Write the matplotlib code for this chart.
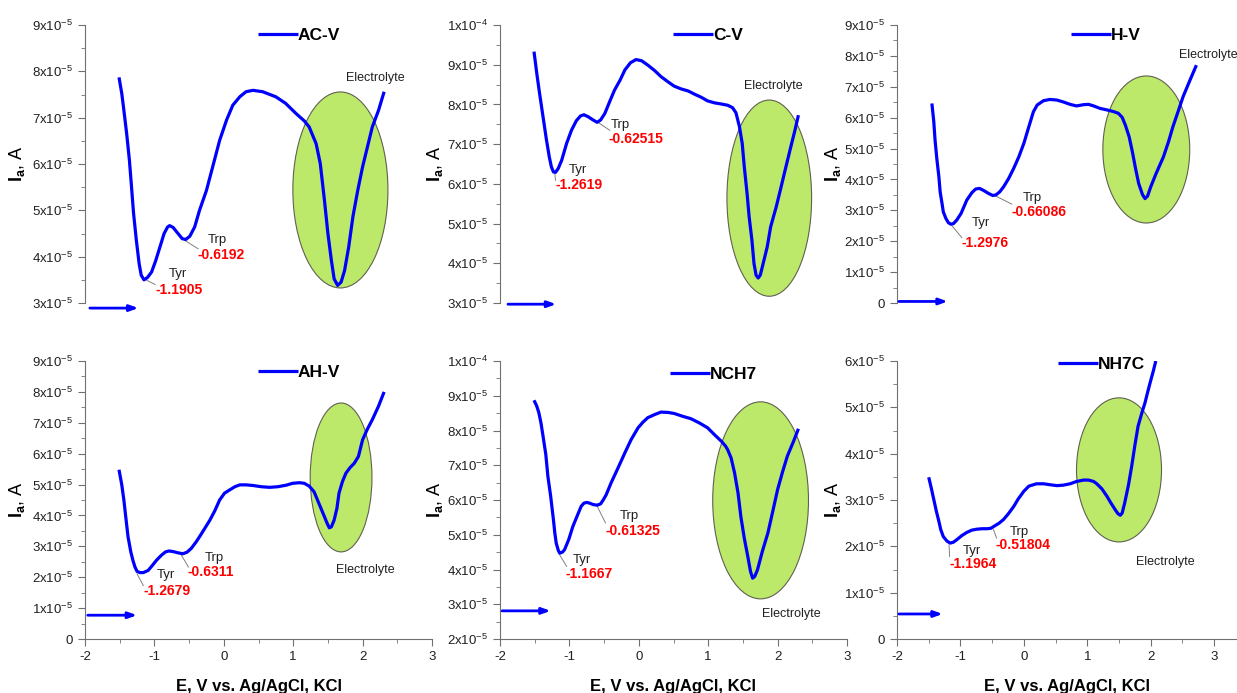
import numpy as np
import matplotlib.pyplot as plt
from matplotlib.patches import Ellipse
from matplotlib.ticker import FixedLocator, MultipleLocator

plt.rcParams['font.family'] = ['Liberation Sans', 'DejaVu Sans']
plt.rcParams['mathtext.fontset'] = 'custom'
plt.rcParams['mathtext.rm'] = 'Liberation Sans'
plt.rcParams['mathtext.it'] = 'Liberation Sans:italic'
plt.rcParams['mathtext.bf'] = 'Liberation Sans:bold'
plt.rcParams['axes.unicode_minus'] = False

#%% data: (E in V, I in 1e-5 A)
names = ['AC-V', 'C-V', 'H-V', 'AH-V', 'NCH7', 'NH7C']

acv = [(-1.51, 7.87), (-1.47, 7.52), (-1.44, 7.16), (-1.40, 6.66), (-1.36, 6.08), (-1.33, 5.51),
       (-1.30, 4.93), (-1.26, 4.35), (-1.22, 3.85), (-1.19, 3.60), (-1.15, 3.50), (-1.10, 3.55),
       (-1.04, 3.67), (-0.98, 3.92), (-0.92, 4.21), (-0.86, 4.50), (-0.81, 4.64), (-0.78, 4.67),
       (-0.73, 4.63), (-0.66, 4.50), (-0.60, 4.39), (-0.55, 4.37), (-0.49, 4.44), (-0.42, 4.64),
       (-0.35, 5.00), (-0.25, 5.43), (-0.16, 5.94), (-0.06, 6.51), (0.04, 6.95), (0.13, 7.27),
       (0.23, 7.45), (0.32, 7.56), (0.42, 7.59), (0.56, 7.56), (0.75, 7.45), (0.89, 7.31),
       (1.04, 7.09), (1.16, 6.93), (1.23, 6.80), (1.28, 6.62), (1.33, 6.44), (1.39, 6.01),
       (1.45, 5.22), (1.50, 4.50), (1.55, 3.92), (1.59, 3.52), (1.64, 3.38), (1.69, 3.45),
       (1.74, 3.70), (1.80, 4.21), (1.86, 4.86), (1.93, 5.43), (2.00, 5.94), (2.07, 6.37),
       (2.14, 6.80), (2.23, 7.16), (2.31, 7.56)]

cv = [(-1.51, 9.33), (-1.47, 8.78), (-1.43, 8.28), (-1.38, 7.69), (-1.33, 7.10), (-1.29, 6.68),
      (-1.26, 6.43), (-1.23, 6.30), (-1.20, 6.29), (-1.16, 6.39), (-1.11, 6.60), (-1.04, 7.02),
      (-0.97, 7.35), (-0.90, 7.59), (-0.84, 7.71), (-0.79, 7.74), (-0.73, 7.69), (-0.66, 7.61),
      (-0.60, 7.55), (-0.55, 7.61), (-0.49, 7.77), (-0.42, 8.07), (-0.35, 8.36), (-0.27, 8.61),
      (-0.20, 8.87), (-0.12, 9.05), (-0.04, 9.13), (0.04, 9.10), (0.13, 8.99), (0.23, 8.85),
      (0.32, 8.70), (0.42, 8.57), (0.51, 8.46), (0.61, 8.39), (0.71, 8.34), (0.80, 8.26),
      (0.90, 8.18), (0.99, 8.09), (1.09, 8.04), (1.19, 8.01), (1.28, 7.98), (1.35, 7.92),
      (1.40, 7.79), (1.45, 7.44), (1.49, 7.02), (1.52, 6.43), (1.56, 5.76), (1.59, 5.17),
      (1.63, 4.58), (1.66, 3.99), (1.69, 3.70), (1.72, 3.63), (1.75, 3.70), (1.78, 3.91),
      (1.85, 4.41), (1.90, 4.92), (1.98, 5.42), (2.05, 5.92), (2.12, 6.43), (2.19, 6.93),
      (2.25, 7.35), (2.30, 7.73)]

hv = [(-1.45, 6.46), (-1.42, 5.87), (-1.40, 5.27), (-1.37, 4.63), (-1.34, 4.09), (-1.32, 3.60),
      (-1.29, 3.22), (-1.27, 2.95), (-1.23, 2.74), (-1.19, 2.60), (-1.15, 2.55), (-1.11, 2.57),
      (-1.06, 2.68), (-0.99, 2.90), (-0.90, 3.33), (-0.82, 3.57), (-0.76, 3.69), (-0.70, 3.71),
      (-0.64, 3.65), (-0.56, 3.55), (-0.49, 3.48), (-0.44, 3.50), (-0.38, 3.60), (-0.32, 3.76),
      (-0.24, 4.03), (-0.16, 4.36), (-0.08, 4.73), (0.00, 5.17), (0.07, 5.65), (0.15, 6.19),
      (0.21, 6.41), (0.31, 6.55), (0.41, 6.59), (0.52, 6.57), (0.62, 6.51), (0.73, 6.43),
      (0.83, 6.38), (0.94, 6.42), (1.02, 6.43), (1.10, 6.38), (1.20, 6.30), (1.31, 6.25),
      (1.41, 6.20), (1.49, 6.14), (1.55, 6.01), (1.60, 5.76), (1.66, 5.38), (1.71, 4.90),
      (1.76, 4.36), (1.81, 3.87), (1.87, 3.51), (1.91, 3.38), (1.95, 3.46), (2.00, 3.76),
      (2.08, 4.17), (2.20, 4.73), (2.28, 5.22), (2.35, 5.71), (2.43, 6.19), (2.51, 6.68),
      (2.62, 7.22), (2.72, 7.70)]

ahv = [(-1.51, 5.48), (-1.47, 4.99), (-1.44, 4.50), (-1.41, 3.90), (-1.38, 3.31), (-1.34, 2.82),
       (-1.31, 2.55), (-1.28, 2.33), (-1.25, 2.19), (-1.21, 2.15), (-1.16, 2.15), (-1.09, 2.22),
       (-1.03, 2.38), (-0.97, 2.55), (-0.90, 2.71), (-0.84, 2.82), (-0.79, 2.85), (-0.73, 2.83),
       (-0.66, 2.79), (-0.59, 2.76), (-0.53, 2.81), (-0.47, 2.93), (-0.40, 3.14), (-0.35, 3.31),
       (-0.28, 3.56), (-0.20, 3.85), (-0.13, 4.15), (-0.06, 4.50), (0.01, 4.72), (0.08, 4.82),
       (0.16, 4.93), (0.23, 4.99), (0.32, 4.99), (0.42, 4.97), (0.54, 4.93), (0.66, 4.91),
       (0.78, 4.93), (0.90, 4.98), (0.99, 5.04), (1.09, 5.06), (1.16, 5.04), (1.23, 4.95),
       (1.30, 4.77), (1.35, 4.50), (1.40, 4.23), (1.45, 3.96), (1.49, 3.74), (1.52, 3.60),
       (1.55, 3.63), (1.59, 3.85), (1.63, 4.23), (1.66, 4.72), (1.71, 5.10), (1.76, 5.37),
       (1.82, 5.55), (1.88, 5.69), (1.94, 5.91), (2.00, 6.45), (2.07, 6.80), (2.14, 7.10),
       (2.23, 7.54), (2.31, 8.00)]

nch7 = [(-1.51, 8.87), (-1.47, 8.70), (-1.44, 8.51), (-1.41, 8.22), (-1.38, 7.84), (-1.34, 7.31),
        (-1.31, 6.68), (-1.27, 6.11), (-1.23, 5.43), (-1.21, 5.05), (-1.19, 4.76), (-1.16, 4.55),
        (-1.14, 4.47), (-1.10, 4.50), (-1.07, 4.57), (-1.01, 4.86), (-0.95, 5.24), (-0.88, 5.58),
        (-0.83, 5.82), (-0.79, 5.91), (-0.75, 5.93), (-0.71, 5.91), (-0.66, 5.87), (-0.60, 5.85),
        (-0.55, 5.89), (-0.51, 6.01), (-0.47, 6.15), (-0.40, 6.49), (-0.30, 6.92), (-0.20, 7.36),
        (-0.11, 7.74), (-0.01, 8.08), (0.06, 8.24), (0.13, 8.37), (0.23, 8.46), (0.32, 8.53),
        (0.42, 8.52), (0.51, 8.49), (0.63, 8.41), (0.75, 8.34), (0.87, 8.22), (0.99, 8.08),
        (1.09, 7.88), (1.19, 7.69), (1.25, 7.55), (1.28, 7.45), (1.33, 7.21), (1.38, 6.78),
        (1.43, 6.20), (1.47, 5.53), (1.52, 4.90), (1.57, 4.38), (1.61, 3.94), (1.64, 3.75),
        (1.67, 3.80), (1.71, 3.99), (1.78, 4.52), (1.86, 5.05), (1.93, 5.67), (2.00, 6.30),
        (2.07, 6.80), (2.14, 7.26), (2.23, 7.69), (2.30, 8.05)]

nh7c = [(-1.50, 3.49), (-1.46, 3.26), (-1.42, 3.01), (-1.38, 2.76), (-1.34, 2.54), (-1.31, 2.36),
        (-1.27, 2.21), (-1.21, 2.11), (-1.16, 2.07), (-1.11, 2.09), (-1.06, 2.14), (-0.98, 2.23),
        (-0.90, 2.30), (-0.82, 2.35), (-0.74, 2.37), (-0.66, 2.38), (-0.58, 2.38), (-0.52, 2.39),
        (-0.45, 2.45), (-0.39, 2.50), (-0.32, 2.58), (-0.24, 2.71), (-0.16, 2.86), (-0.09, 3.02),
        (0.00, 3.19), (0.08, 3.30), (0.20, 3.35), (0.31, 3.35), (0.41, 3.33), (0.52, 3.31),
        (0.62, 3.32), (0.73, 3.35), (0.83, 3.40), (0.94, 3.43), (1.02, 3.43), (1.10, 3.40),
        (1.15, 3.35), (1.23, 3.24), (1.31, 3.08), (1.37, 2.94), (1.44, 2.79), (1.48, 2.71),
        (1.52, 2.67), (1.55, 2.72), (1.59, 2.94), (1.65, 3.33), (1.70, 3.73), (1.75, 4.18),
        (1.80, 4.59), (1.86, 4.88), (1.91, 5.10), (1.95, 5.32), (1.99, 5.53), (2.04, 5.78),
        (2.08, 6.00)]

curves = [acv, cv, hv, ahv, nch7, nh7c]

tyr_labels = ['-1.1905', '-1.2619', '-1.2976', '-1.2679', '-1.1667', '-1.1964']
trp_labels = ['-0.6192', '-0.62515', '-0.66086', '-0.6311', '-0.61325', '-0.51804']

y_ranges = [(3, 9), (3, 10), (0, 9), (0, 9), (2, 10), (0, 6)]

#%% decorations per panel (data coords, current in 1e-5)
# ellipse: centre x, centre y, width, height
ellipses = [(1.68, 5.44, 1.37, 4.23), (1.88, 5.64, 1.22, 4.94), (1.93, 4.97, 1.37, 4.76),
            (1.69, 5.23, 0.89, 4.82), (1.755, 5.99, 1.38, 5.67), (1.50, 3.65, 1.34, 3.11)]
electro_pos = [(1.76, 7.85), (1.52, 8.46), (2.45, 8.03), (1.61, 2.22), (1.78, 2.72), (1.77, 1.67)]
arrows = [(-1.93, -1.23, 2.89), (-1.885, -1.19, 2.97), (-1.97, -1.20, 0.05),
          (-1.96, -1.25, 0.77), (-1.97, -1.27, 2.81), (-1.97, -1.28, 0.54)]
# leader (x0, y0, x1, y1), name text pos, value text pos
tyr_lead = [(-1.11, 3.49, -0.99, 3.40), (-1.21, 6.26, -1.20, 6.09), (-1.13, 2.49, -0.98, 2.12),
            (-1.25, 2.11, -1.16, 1.73), (-1.14, 4.42, -1.04, 4.09), (-1.18, 2.03, -1.17, 1.78)]
tyr_name = [(-0.80, 3.63), (-1.01, 6.34), (-0.82, 2.60), (-0.97, 2.08), (-0.95, 4.28), (-0.96, 1.90)]
tyr_val = [(-0.98, 3.27), (-1.20, 5.97), (-0.99, 1.93), (-1.16, 1.55), (-1.06, 3.88), (-1.17, 1.62)]
trp_lead = [(-0.56, 4.35, -0.37, 4.17), (-0.58, 7.54, -0.42, 7.35), (-0.45, 3.47, -0.19, 3.20),
            (-0.61, 2.71, -0.51, 2.33), (-0.60, 5.82, -0.48, 5.34), (-0.48, 2.36, -0.43, 2.18)]
trp_name = [(-0.23, 4.37), (-0.40, 7.48), (-0.01, 3.41), (-0.28, 2.63), (-0.28, 5.55), (-0.23, 2.32)]
trp_val = [(-0.38, 4.03), (-0.43, 7.14), (-0.20, 2.93), (-0.52, 2.16), (-0.48, 5.12), (-0.44, 2.03)]
legend_pos = [(0.4986, 0.964), (0.4986, 0.964), (0.512, 0.964),
              (0.4986, 0.960), (0.49, 0.953), (0.4735, 0.986)]

W, H = 1237, 693
# axes boxes in pixels: left, top, right, bottom
boxes = [(85, 25, 432, 303), (500, 25, 847, 303), (897, 25, 1237, 303),
         (85, 361, 432, 639), (500, 361, 847, 639), (897, 361, 1237, 639)]
x_hi = [3, 3, 3.36, 3, 3, 3.36]
ylabel_x = [27, 445, 843]   # right edge of the rotated y label, px

blue = '#0000FF'
grey = '#707070'

fig = plt.figure(figsize=(W / 100, H / 100), dpi=100)

for i in range(6):
    l, t, r, b = boxes[i]
    ax = fig.add_axes([l / W, 1 - b / H, (r - l) / W, (b - t) / H])
    E, I = np.array(curves[i]).T
    lo, hi = y_ranges[i]

    cx, cy, ew, eh = ellipses[i]
    ax.add_patch(Ellipse((cx, cy), ew, eh, facecolor='#BDE96B', edgecolor='#606050',
                         linewidth=0.8, zorder=1))
    ax.plot(E, I, color=blue, linewidth=2.3, zorder=3, label=names[i],
            solid_joinstyle='round', solid_capstyle='butt')

    x0, x1, ya = arrows[i]
    ax.annotate('', xy=(x1, ya), xytext=(x0, ya), annotation_clip=False,
                arrowprops=dict(arrowstyle='-|>,head_length=0.5,head_width=0.18',
                                color=blue, lw=2.0, shrinkA=0, shrinkB=0))

    for lead, nm, vp, name, val in [(tyr_lead[i], tyr_name[i], tyr_val[i], 'Tyr', tyr_labels[i]),
                                     (trp_lead[i], trp_name[i], trp_val[i], 'Trp', trp_labels[i])]:
        ax.plot([lead[0], lead[2]], [lead[1], lead[3]], color='#808080', lw=0.7, zorder=2)
        ax.text(nm[0], nm[1], name, fontsize=9.5, color='#202020', ha='left', va='center')
        ax.text(vp[0], vp[1], val, fontsize=10, color='#FF0000', fontweight='bold',
                ha='left', va='center')

    ex, ey = electro_pos[i]
    ax.text(ex, ey, 'Electrolyte', fontsize=9, color='#202020', ha='left', va='center')

    ax.legend(loc='center left', bbox_to_anchor=legend_pos[i], frameon=False,
              handlelength=2.3, handletextpad=0.0, borderpad=0, borderaxespad=0,
              prop={'weight': 'bold', 'size': 12.5})

    ax.set_xlim(-2, x_hi[i])
    ax.set_ylim(lo, hi)

    yt = np.arange(lo, hi + 0.5, 1)
    ax.yaxis.set_major_locator(FixedLocator(yt))
    ax.yaxis.set_minor_locator(MultipleLocator(0.5))
    labels = []
    for v in yt:
        if v == 0:
            labels.append('0')
        elif v == 10:
            labels.append(r'1x10$^{-4}$')
        else:
            labels.append(r'%dx10$^{-5}$' % v)
    ax.set_yticklabels(labels)

    ax.xaxis.set_major_locator(FixedLocator([-2, -1, 0, 1, 2, 3]))
    ax.xaxis.set_minor_locator(MultipleLocator(0.5))

    for s in ['top', 'right']:
        ax.spines[s].set_visible(False)
    ax.spines['left'].set_color(grey)
    ax.spines['bottom'].set_color(grey)
    ax.tick_params(which='both', direction='out', color=grey, labelcolor='#202020',
                   labelsize=9.5)
    ax.tick_params(which='major', length=5)
    ax.tick_params(which='minor', length=3)
    ax.patch.set_visible(False)

    ax.set_ylabel(r'$\mathbf{I}_\mathbf{a}$, A', fontsize=13)
    ax.yaxis.set_label_coords((ylabel_x[i % 3] - l) / (r - l), 0.5)

    if i < 3:
        ax.spines['bottom'].set_visible(False)
        ax.tick_params(axis='x', which='both', bottom=False, labelbottom=False)
    else:
        ax.set_xlabel('E, V vs. Ag/AgCl, KCl', fontsize=12, fontweight='bold', labelpad=12)

fig.savefig('out.png', dpi=100)
